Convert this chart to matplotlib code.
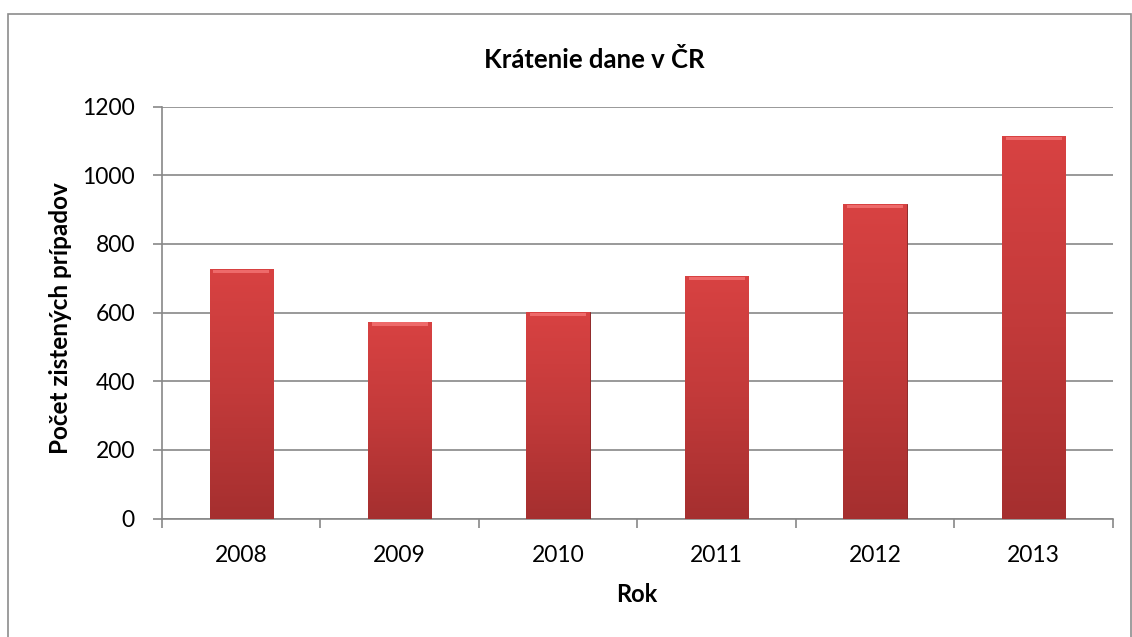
import matplotlib.pyplot as plt
from matplotlib.patches import Rectangle
import numpy as np

roky = ["2008", "2009", "2010", "2011", "2012", "2013"]
pripady = [727, 574, 602, 707, 917, 1115]

plt.rcParams['font.family'] = ['Lato', 'DejaVu Sans']

fig = plt.figure(figsize=(11.32, 6.37), dpi=100)
ax = fig.add_axes([0.1431, 0.186, 0.8400, 0.6465])

# outer chart frame
fig.patches.append(Rectangle((8 / 1132, -0.01), (1131 - 8) / 1132, 1.01 - 14 / 637,
                             transform=fig.transFigure, fill=False,
                             edgecolor='#8c8c8c', linewidth=1.2))

x = np.arange(len(roky))
bars = ax.bar(x, pripady, width=0.4, color='#d64040', edgecolor='#8f2a2a',
              linewidth=0.7, zorder=3)

# vertical gradient on bars
grad = np.linspace(0, 1, 256).reshape(-1, 1)
cmap = plt.matplotlib.colors.LinearSegmentedColormap.from_list(
    'r', ['#a52f2f', '#c23a3a', '#d84242'])
for b in bars:
    x0, w, h = b.get_x(), b.get_width(), b.get_height()
    im = ax.imshow(grad, extent=(x0, x0 + w, 0, h), origin='lower', cmap=cmap,
                   aspect='auto', zorder=3.5)
    im.set_clip_path(b)
    # light bevel on top
    ax.add_patch(Rectangle((x0 + w * 0.06, h - 13), w * 0.88, 11,
                           facecolor='#ee6a6a', edgecolor='none', zorder=4))

ax.set_xlim(-0.5, len(roky) - 0.5)
ax.set_ylim(0, 1200)
ax.set_yticks(range(0, 1201, 200))
ax.set_xticks(x)
ax.set_xticklabels(roky)
ax.set_xticks(np.arange(-0.5, len(roky)), minor=True)
ax.tick_params(axis='x', which='major', length=0, pad=19, labelsize=16.5)
ax.tick_params(axis='x', which='minor', length=6.5, width=1.2, color='#888888', direction='out')
ax.tick_params(axis='y', length=6.5, width=1.2, color='#888888', direction='out',
               labelsize=16.5, pad=13)

ax.grid(axis='y', color='#888888', linewidth=1.2, zorder=0)
for s in ['top', 'right']:
    ax.spines[s].set_visible(False)
for s in ['left', 'bottom']:
    ax.spines[s].set_color('#888888')
    ax.spines[s].set_linewidth(1.2)

fig.text(594 / 1132, 1 - 60 / 637, 'Krátenie dane v ČR', fontsize=18.5,
         fontweight='bold', ha='center', va='center')
ax.set_xlabel('Rok', fontsize=17, fontweight='bold')
ax.xaxis.set_label_coords((637 - 162) / 951, -(594 - 518.5) / 411.8)
ax.xaxis.label.set_va('center')
ax.set_ylabel('Počet zistených prípadov', fontsize=17.5, fontweight='bold')
ax.yaxis.set_label_coords(-(162 - 60) / 951, (518.5 - 318) / 411.8)
ax.yaxis.label.set_va('center')

fig.savefig('out.png', dpi=100)
